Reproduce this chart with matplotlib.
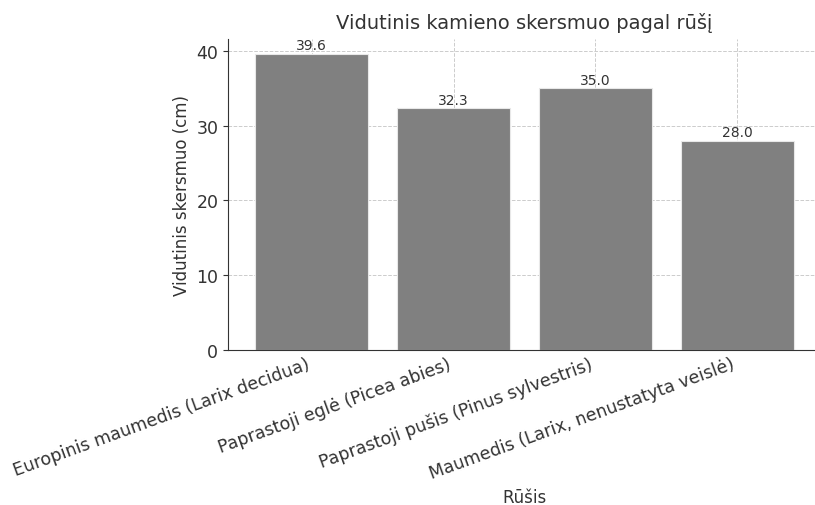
import matplotlib
matplotlib.use("Agg")
import matplotlib.pyplot as plt

species = [
    "Europinis maumedis (Larix decidua)",
    "Paprastoji eglė (Picea abies)",
    "Paprastoji pušis (Pinus sylvestris)",
    "Maumedis (Larix, nenustatyta veislė)",
]
mean_diameter = [39.6, 32.3, 35.0, 28.0]

fig = plt.figure(figsize=(8.15, 5.06), dpi=100)
ax = fig.add_axes([228/815, (506-351)/506, 593/815, (351-40)/506])

bars = ax.bar(species, mean_diameter, color="#808080", edgecolor="#e8e8e8", linewidth=0.8, zorder=2)
for b, v in zip(bars, mean_diameter):
    ax.text(b.get_x() + b.get_width()/2, v + 0.2, f"{v:.1f}", ha="center", va="bottom",
            fontsize=10, color="#333333")

ax.set_title("Vidutinis kamieno skersmuo pagal rūšį", fontsize=14, color="#333333", pad=8)
ax.set_ylabel("Vidutinis skersmuo (cm)", fontsize=12, color="#333333")
ax.set_xlabel("Rūšis", fontsize=12, color="#333333")
ax.set_yticks([0, 10, 20, 30, 40])
ax.tick_params(axis="both", labelsize=12.5, colors="#333333")
ax.tick_params(axis="x", length=0)
plt.setp(ax.get_xticklabels(), rotation=20, ha="right")
ax.grid(True, linestyle="--", color="#cccccc", linewidth=0.7, zorder=0)
ax.set_axisbelow(True)
ax.spines["top"].set_visible(False)
ax.spines["right"].set_visible(False)
ax.spines["left"].set_color("#333333")
ax.spines["bottom"].set_color("#333333")

fig.savefig("out.png", dpi=100)
